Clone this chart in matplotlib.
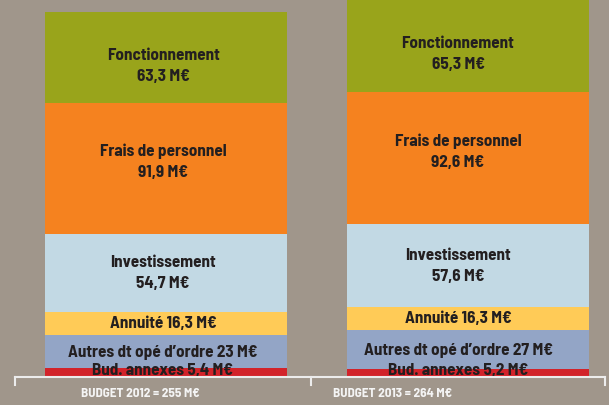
import matplotlib.pyplot as plt
from matplotlib.lines import Line2D

# Données (M€)
annees = ["2012", "2013"]
totaux = [255, 264]
postes = ["Bud. annexes", "Autres dt opé d’ordre", "Annuité",
          "Investissement", "Frais de personnel", "Fonctionnement"]
valeurs_2012 = [5.4, 23, 16.3, 54.7, 91.9, 63.3]
valeurs_2013 = [5.2, 27, 16.3, 57.6, 92.6, 65.3]

couleurs = ["#d2232a", "#93a5c6", "#ffcb57", "#c2d9e4", "#f5821f", "#99a41b"]
deux_lignes = [False, False, False, True, True, True]
decalage_y = [3, 0, 1, 1, 8, -7.5]     # décalage vertical des étiquettes (px)
decalage_x = [-3, -10]                 # décalage horizontal par barre (px)

fond = "#a0968b"
texte = "#231f20"
plt.rcParams["font.family"] = ["Barlow Semi Condensed", "Barlow Condensed", "Roboto Condensed",
                               "Asap Condensed", "Archivo Narrow", "DejaVu Sans"]

fig = plt.figure(figsize=(6.09, 4.06), dpi=100, facecolor=fond)
ax = fig.add_axes([0, 29 / 406, 1, 377 / 406])
ax.set_facecolor(fond)

largeur = 242 / 302
ecart_px = 302
for i, vals in enumerate([valeurs_2012, valeurs_2013]):
    bas = 0
    for j, v in enumerate(vals):
        ax.bar(i, v, bottom=bas, width=largeur, color=couleurs[j], linewidth=0)
        val_txt = f"{v:g}".replace(".", ",") + " M€"
        if deux_lignes[j]:
            lab = postes[j] + "\n" + val_txt
        else:
            lab = postes[j] + " " + val_txt
        ax.annotate(lab, (i, bas + v / 2), xytext=(decalage_x[i] * 0.72, decalage_y[j] * 0.72),
                    textcoords="offset points", ha="center", va="center",
                    fontsize=12.3, fontweight="bold", color=texte, linespacing=1.5,
                    annotation_clip=False, zorder=3)
        bas += v

ax.set_xlim(-166 / ecart_px, 1 + (609 - 468) / ecart_px)
ax.set_ylim(0, 264)
ax.axis("off")

# Accolade du bas
W, H = 609, 406
ligne_y = 1 - 378 / H
bas_y = 1 - 386 / H
blanc = "#ececec"
fig.add_artist(Line2D([15 / W, 605 / W], [ligne_y, ligne_y], color=blanc, lw=1.5, zorder=5))
for xp in [15, 311, 605]:
    fig.add_artist(Line2D([xp / W, xp / W], [ligne_y, bas_y], color=blanc, lw=1.5, zorder=5))

for xp, an, tot in zip([140, 393], annees, totaux):
    fig.text(xp / W, 1 - 394 / H, f"BUDGET {an} = {tot} M€", ha="center", va="center",
             fontsize=9.5, fontweight="bold", color="#f4f4f4")

fig.savefig("out.png", dpi=100, facecolor=fond)
